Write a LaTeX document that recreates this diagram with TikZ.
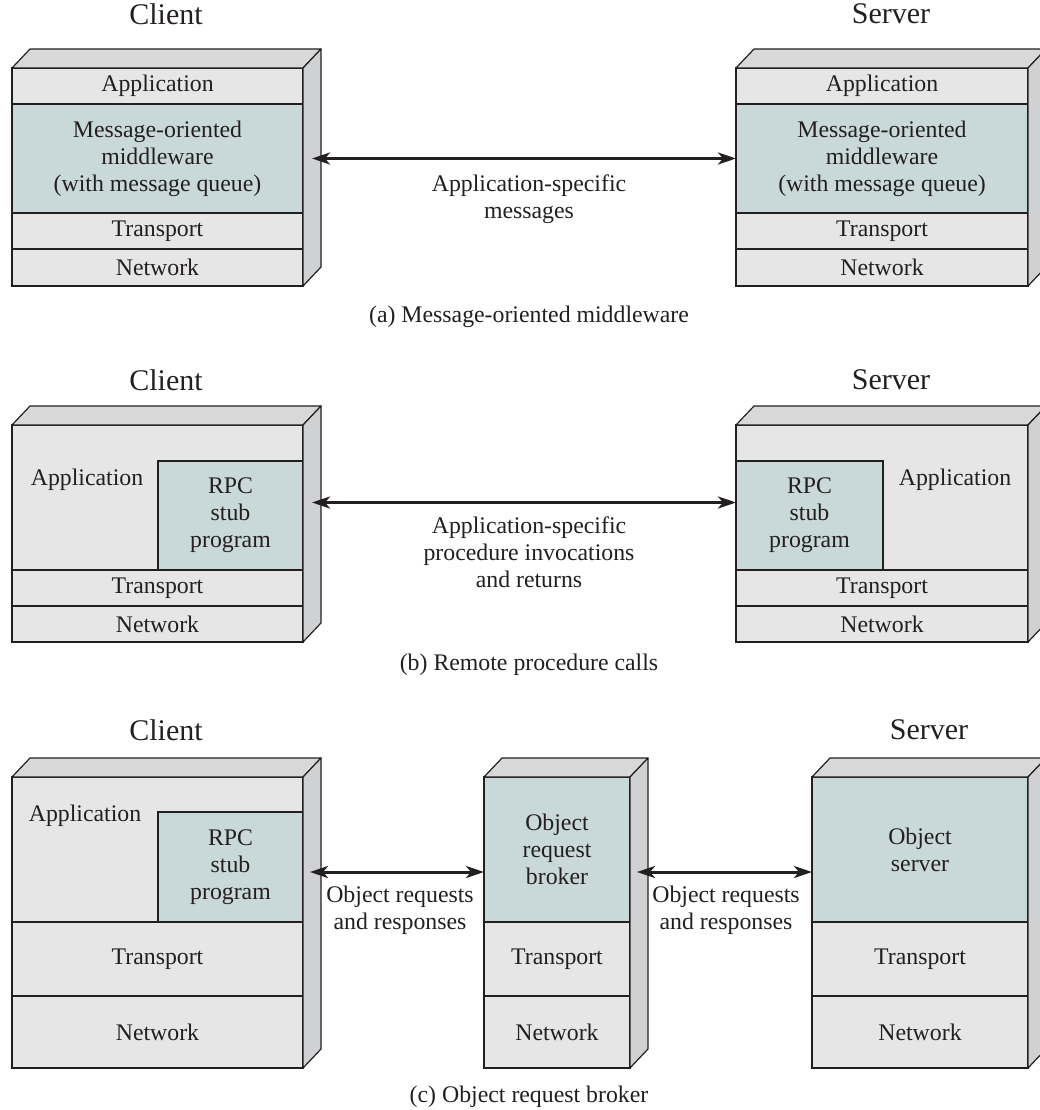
\documentclass[tikz,border=0pt]{standalone}
\usepackage{fontspec}
\setmainfont{Liberation Serif}
\usepackage{xcolor}
\usetikzlibrary{shapes,arrows,arrows.meta,positioning,calc}

\definecolor{layergray}{RGB}{230,230,230}
\definecolor{stubteal}{RGB}{201,216,216}
\definecolor{topgray}{RGB}{216,216,216}
\definecolor{sidegray}{RGB}{208,209,211}
\definecolor{edgeblack}{RGB}{35,31,32}
\newcommand{\figfont}{\fontsize{23.8pt}{27pt}\selectfont}
\newcommand{\titlefont}{\fontsize{30pt}{34pt}\selectfont}

\begin{document}
\begin{tikzpicture}[x=1pt, y=-1pt, every node/.style={text=edgeblack, font=\figfont}]
  % Styles for the layered boxes
  \tikzstyle{layer} = [rectangle, draw=edgeblack, fill=layergray, line width=1.2pt, inner sep=0pt, outer sep=0pt, align=center]
  \tikzstyle{stub} = [layer, fill=stubteal]
  \tikzstyle{topface} = [draw=edgeblack, fill=topgray, line width=1.2pt, line join=round]
  \tikzstyle{sideface} = [draw=edgeblack, fill=sidegray, line width=1.2pt, line join=round]
  \tikzstyle{boxtitle} = [font=\titlefont]
  \tikzstyle{msgarrow} = [line width=3pt, <->, >={Stealth[length=18pt, width=12pt, inset=5pt]}, color=edgeblack]
  \tikzstyle{msglabel} = [align=center]

  \useasboundingbox (0,0) rectangle (1039,1110);

  % (a) Message-oriented middleware
  \node[boxtitle] (actitle) at (166,14) {Client};
  \node[boxtitle] (astitle) at (891,14) {Server};

  \node[layer, minimum width=291pt, minimum height=36pt, anchor=north west] (acapp) at (12,68) {Application};
  \node[stub, minimum width=291pt, minimum height=109pt, below=0pt of acapp] (acmom) {Message-oriented\\middleware\\(with message queue)};
  \node[layer, minimum width=291pt, minimum height=36pt, below=0pt of acmom] (actra) {Transport};
  \node[layer, minimum width=291pt, minimum height=37pt, below=0pt of actra] (acnet) {Network};
  \filldraw[topface] (acapp.north west) -- ++(18,-19) -- ([shift={(18,-19)}]acapp.north east) -- (acapp.north east) -- cycle;
  \filldraw[sideface] (acapp.north east) -- ++(18,-19) -- ([shift={(18,-19)}]acnet.south east) -- (acnet.south east) -- cycle;

  \node[layer, minimum width=292pt, minimum height=36pt, anchor=north west] (asapp) at (736,68) {Application};
  \node[stub, minimum width=292pt, minimum height=109pt, below=0pt of asapp] (asmom) {Message-oriented\\middleware\\(with message queue)};
  \node[layer, minimum width=292pt, minimum height=36pt, below=0pt of asmom] (astra) {Transport};
  \node[layer, minimum width=292pt, minimum height=37pt, below=0pt of astra] (asnet) {Network};
  \filldraw[topface] (asapp.north west) -- ++(18,-19) -- ([shift={(18,-19)}]asapp.north east) -- (asapp.north east) -- cycle;
  \filldraw[sideface] (asapp.north east) -- ++(18,-19) -- ([shift={(18,-19)}]asnet.south east) -- (asnet.south east) -- cycle;

  \draw[msgarrow] ([xshift=9pt]acmom.east) -- (asmom.west);
  \node[msglabel] (amsg) at (529,199) {Application-specific\\messages};
  \node (acap) at (529,317) {(a) Message-oriented middleware};

  % (b) Remote procedure calls
  \node[boxtitle] (bctitle) at (166,380) {Client};
  \node[boxtitle] (bstitle) at (891,380) {Server};

  \node[layer, minimum width=291pt, minimum height=145pt, anchor=north west] (bcapp) at (12,425) {};
  \node (bcapptxt) at (87,480) {Application};
  \node[stub, minimum width=145pt, minimum height=109pt, anchor=south east] (bcrpc) at (bcapp.south east) {RPC\\stub\\program};
  \node[layer, minimum width=291pt, minimum height=36pt, below=0pt of bcapp] (bctra) {Transport};
  \node[layer, minimum width=291pt, minimum height=36pt, below=0pt of bctra] (bcnet) {Network};
  \filldraw[topface] (bcapp.north west) -- ++(18,-19) -- ([shift={(18,-19)}]bcapp.north east) -- (bcapp.north east) -- cycle;
  \filldraw[sideface] (bcapp.north east) -- ++(18,-19) -- ([shift={(18,-19)}]bcnet.south east) -- (bcnet.south east) -- cycle;

  \node[layer, minimum width=292pt, minimum height=145pt, anchor=north west] (bsapp) at (736,425) {};
  \node (bsapptxt) at (955,480) {Application};
  \node[stub, minimum width=147pt, minimum height=109pt, anchor=south west] (bsrpc) at (bsapp.south west) {RPC\\stub\\program};
  \node[layer, minimum width=292pt, minimum height=36pt, below=0pt of bsapp] (bstra) {Transport};
  \node[layer, minimum width=292pt, minimum height=36pt, below=0pt of bstra] (bsnet) {Network};
  \filldraw[topface] (bsapp.north west) -- ++(18,-19) -- ([shift={(18,-19)}]bsapp.north east) -- (bsapp.north east) -- cycle;
  \filldraw[sideface] (bsapp.north east) -- ++(18,-19) -- ([shift={(18,-19)}]bsnet.south east) -- (bsnet.south east) -- cycle;

  \draw[msgarrow] ([shift={(9,-13)}]bcrpc.east) -- ([shift={(0,-13)}]bsrpc.west);
  \node[msglabel] (bmsg) at (529,552) {Application-specific\\procedure invocations\\and returns};
  \node (bcap) at (529,665) {(b) Remote procedure calls};

  % (c) Object request broker
  \node[boxtitle] (cctitle) at (166,730) {Client};
  \node[boxtitle] (cstitle) at (929,730) {Server};

  \node[layer, minimum width=291pt, minimum height=145pt, anchor=north west] (ccapp) at (12,777) {};
  \node (ccapptxt) at (85,816) {Application};
  \node[stub, minimum width=145pt, minimum height=110pt, anchor=south east] (ccrpc) at (ccapp.south east) {RPC\\stub\\program};
  \node[layer, minimum width=291pt, minimum height=74pt, below=0pt of ccapp] (cctra) {Transport};
  \node[layer, minimum width=291pt, minimum height=72pt, below=0pt of cctra] (ccnet) {Network};
  \filldraw[topface] (ccapp.north west) -- ++(18,-19) -- ([shift={(18,-19)}]ccapp.north east) -- (ccapp.north east) -- cycle;
  \filldraw[sideface] (ccapp.north east) -- ++(18,-19) -- ([shift={(18,-19)}]ccnet.south east) -- (ccnet.south east) -- cycle;

  \node[stub, minimum width=146pt, minimum height=145pt, anchor=north west] (cborb) at (484,777) {Object\\request\\broker};
  \node[layer, minimum width=146pt, minimum height=74pt, below=0pt of cborb] (cbtra) {Transport};
  \node[layer, minimum width=146pt, minimum height=72pt, below=0pt of cbtra] (cbnet) {Network};
  \filldraw[topface] (cborb.north west) -- ++(18,-19) -- ([shift={(18,-19)}]cborb.north east) -- (cborb.north east) -- cycle;
  \filldraw[sideface] (cborb.north east) -- ++(18,-19) -- ([shift={(18,-19)}]cbnet.south east) -- (cbnet.south east) -- cycle;

  \node[stub, minimum width=216pt, minimum height=145pt, anchor=north west] (csos) at (812,777) {Object\\server};
  \node[layer, minimum width=216pt, minimum height=74pt, below=0pt of csos] (cstra) {Transport};
  \node[layer, minimum width=216pt, minimum height=72pt, below=0pt of cstra] (csnet) {Network};
  \filldraw[topface] (csos.north west) -- ++(18,-19) -- ([shift={(18,-19)}]csos.north east) -- (csos.north east) -- cycle;
  \filldraw[sideface] (csos.north east) -- ++(18,-19) -- ([shift={(18,-19)}]csnet.south east) -- (csnet.south east) -- cycle;

  \coordinate (cleft) at ([shift={(7,5)}]ccrpc.east);
  \coordinate (cright) at ($(cleft -| cborb.east)+(7,0)$);
  \draw[msgarrow] (cleft) -- (cleft -| cborb.west);
  \draw[msgarrow] (cright) -- (cright -| csos.west);
  \node[msglabel] (cmsgl) at (400,910) {Object requests\\and responses};
  \node[msglabel] (cmsgr) at (726,910) {Object requests\\and responses};
  \node (ccap) at (529,1097) {(c) Object request broker};

\end{tikzpicture}
\end{document}
